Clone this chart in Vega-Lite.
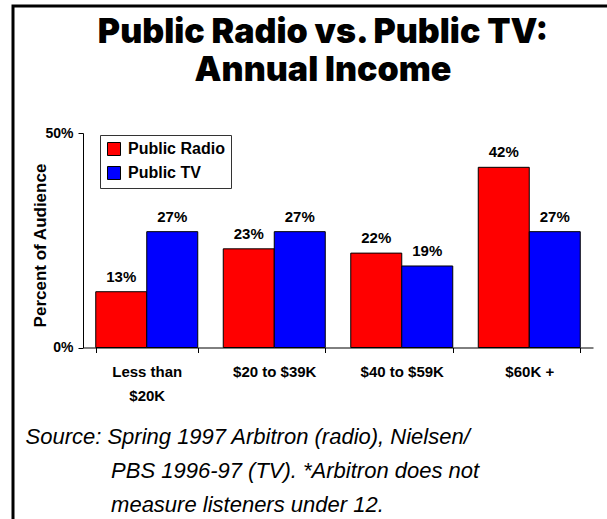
{
  "$schema": "https://vega.github.io/schema/vega-lite/v6.json",
  "autosize": "none",
  "padding": {"left": 13, "top": 6, "right": 0, "bottom": 0},
  "width": 594,
  "height": 513,
  "background": "white",
  "title": {
    "text": ["Public Radio vs. Public TV:", "Annual Income"],
    "font": "Inter",
    "fontWeight": 900,
    "fontSize": 34,
    "lineHeight": 38,
    "color": "black",
    "anchor": "middle",
    "frame": "group",
    "baseline": "alphabetic",
    "offset": 0,
    "dx": 13,
    "dy": 109
  },
  "config": {
    "view": {"stroke": "black", "strokeWidth": 3, "strokeDash": [594, 1107, 513]},
    "font": "Liberation Sans"
  },
  "data": {
    "values": [
      {"income": "Less than $20K", "series": "Public Radio", "share": 0.13},
      {"income": "Less than $20K", "series": "Public TV", "share": 0.27},
      {"income": "$20 to $39K", "series": "Public Radio", "share": 0.23},
      {"income": "$20 to $39K", "series": "Public TV", "share": 0.27},
      {"income": "$40 to $59K", "series": "Public Radio", "share": 0.22},
      {"income": "$40 to $59K", "series": "Public TV", "share": 0.19},
      {"income": "$60K +", "series": "Public Radio", "share": 0.42},
      {"income": "$60K +", "series": "Public TV", "share": 0.27}
    ]
  },
  "encoding": {
    "x": {
      "field": "income",
      "type": "nominal",
      "sort": ["Less than $20K", "$20 to $39K", "$40 to $59K", "$60K +"],
      "scale": {"range": [70, 580], "paddingInner": 0.2, "paddingOuter": 0.1},
      "axis": {
        "orient": "bottom",
        "offset": -171.5,
        "domainColor": "black",
        "tickColor": "black",
        "tickBand": "extent",
        "tickSize": 5,
        "labelAngle": 0,
        "labelFont": "Liberation Sans",
        "labelFontSize": 15,
        "labelFontWeight": "bold",
        "labelColor": "black",
        "labelPadding": 12,
        "labelLineHeight": 24,
        "labelExpr": "datum.value == 'Less than $20K' ? ['Less than', '$20K'] : datum.value",
        "title": ["Source: Spring 1997 Arbitron (radio), Nielsen/", "\u200b\u00a0\u00a0\u00a0\u00a0\u00a0\u00a0\u00a0\u00a0\u00a0\u00a0\u00a0\u00a0\u00a0\u00a0PBS 1996-97 (TV). *Arbitron does not", "\u200b\u00a0\u00a0\u00a0\u00a0\u00a0\u00a0\u00a0\u00a0\u00a0\u00a0\u00a0\u00a0\u00a0\u00a0measure listeners under 12."],
        "titleFont": "Liberation Sans",
        "titleFontSize": 22,
        "titleFontStyle": "italic",
        "titleFontWeight": "normal",
        "titleColor": "black",
        "titleAlign": "left",
        "titleAnchor": "start",
        "titleBaseline": "alphabetic",
        "titleLineHeight": 34,
        "titleX": 12,
        "titleY": 95.5
      }
    },
    "y": {
      "field": "share",
      "type": "quantitative",
      "scale": {"domain": [0, 0.5], "range": [341.5, 127], "nice": false},
      "axis": {
        "orient": "left",
        "offset": -70,
        "values": [0, 0.5],
        "format": ".0%",
        "grid": false,
        "domainColor": "black",
        "tickColor": "black",
        "tickSize": 5,
        "labelFont": "Liberation Sans",
        "labelFontSize": 14,
        "labelFontWeight": "bold",
        "labelColor": "black",
        "labelPadding": 5,
        "title": "Percent of Audience",
        "titleFont": "Liberation Sans",
        "titleFontSize": 17,
        "titleFontWeight": "bold",
        "titleColor": "black",
        "titleBaseline": "middle",
        "titleX": -43,
        "titleY": 239
      }
    }
  },
  "layer": [
    {
      "mark": {"type": "bar", "stroke": "black", "strokeWidth": 1},
      "encoding": {
        "xOffset": {"field": "series", "type": "nominal", "sort": ["Public Radio", "Public TV"], "scale": {"paddingInner": 0, "paddingOuter": 0}},
        "color": {
          "field": "series",
          "type": "nominal",
          "sort": ["Public Radio", "Public TV"],
          "scale": {"domain": ["Public Radio", "Public TV"], "range": ["#FF0000", "#0000FF"]},
          "legend": {
            "title": null,
            "orient": "none",
            "legendX": 87,
            "legendY": 129,
            "fillColor": "white",
            "strokeColor": "#333333",
            "padding": 6,
            "symbolType": "square",
            "symbolSize": 169,
            "symbolStrokeColor": "black",
            "symbolStrokeWidth": 1,
            "symbolOpacity": 1,
            "labelFont": "Liberation Sans",
            "labelFontSize": 16,
            "labelFontWeight": "bold",
            "labelColor": "black",
            "labelOffset": 6,
            "rowPadding": 6
          }
        }
      }
    },
    {
      "mark": {"type": "text", "font": "Liberation Sans", "fontSize": 15, "fontWeight": "bold", "color": "black", "baseline": "alphabetic", "dy": -10},
      "encoding": {
        "xOffset": {"field": "series", "type": "nominal", "sort": ["Public Radio", "Public TV"]},
        "text": {"field": "share", "type": "quantitative", "format": ".0%"}
      }
    }
  ]
}
